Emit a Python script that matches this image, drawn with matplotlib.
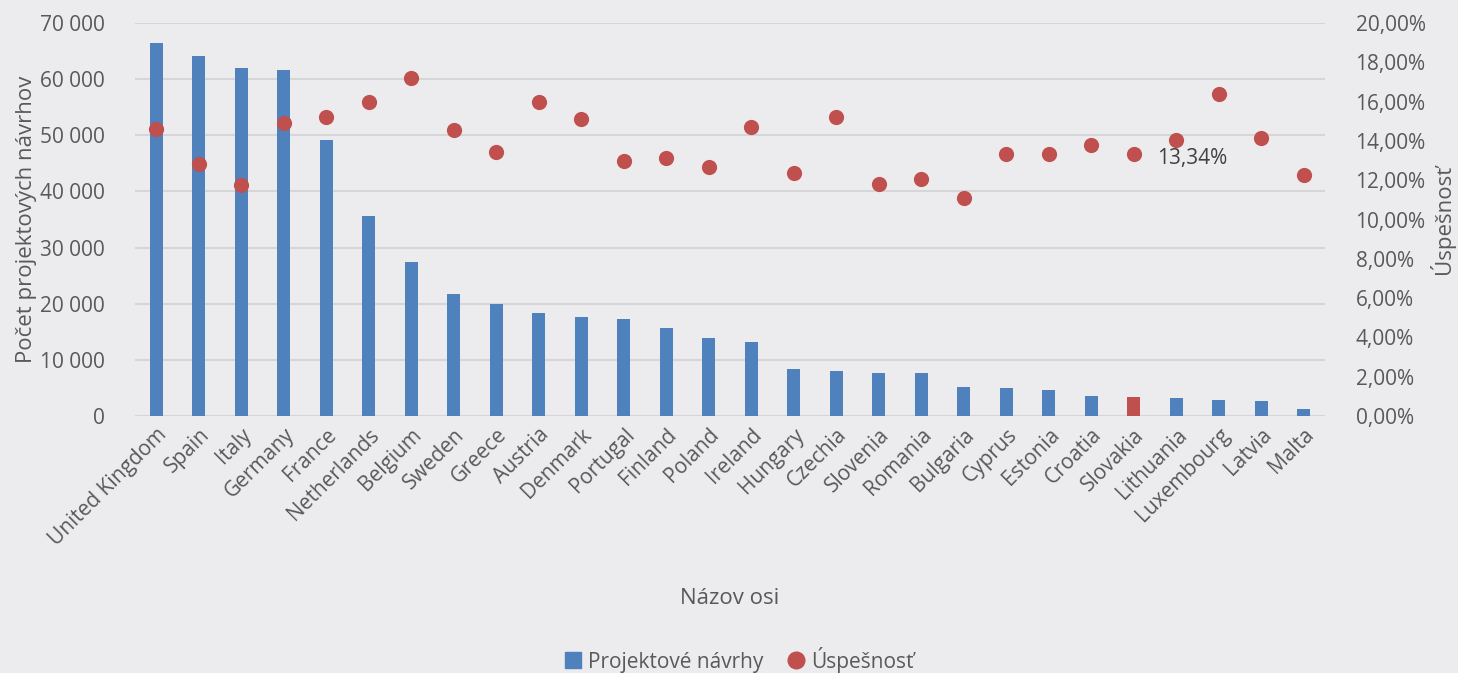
import matplotlib.pyplot as plt
from matplotlib.ticker import FuncFormatter
from matplotlib.lines import Line2D

plt.rcParams['font.family'] = ['Open Sans', 'DejaVu Sans']

# Data
krajiny = ['United Kingdom', 'Spain', 'Italy', 'Germany', 'France', 'Netherlands',
           'Belgium', 'Sweden', 'Greece', 'Austria', 'Denmark', 'Portugal', 'Finland',
           'Poland', 'Ireland', 'Hungary', 'Czechia', 'Slovenia', 'Romania', 'Bulgaria',
           'Cyprus', 'Estonia', 'Croatia', 'Slovakia', 'Lithuania', 'Luxembourg',
           'Latvia', 'Malta']
navrhy = [66400, 64200, 61900, 61700, 49100, 35700, 27400, 21700, 20000, 18300,
          17700, 17200, 15600, 13900, 13200, 8300, 8100, 7600, 7600, 5100,
          4900, 4700, 3600, 3400, 3200, 2800, 2700, 1300]
uspesnost = [14.62, 12.84, 11.74, 14.90, 15.23, 15.98, 17.20, 14.57, 13.42, 16.00,
             15.10, 12.99, 13.11, 12.69, 14.69, 12.37, 15.23, 11.82, 12.06, 11.11,
             13.33, 13.35, 13.79, 13.34, 14.03, 16.37, 14.13, 12.28]
zvyraznena = 'Slovakia'

modra = '#4f81bd'
cervena = '#c0504d'
text_farba = '#595959'
fs = 15      # popisky osi
fs_nazov = 16  # nazvy osi

fig = plt.figure(figsize=(14.58, 6.73), dpi=100)
fig.patch.set_facecolor('#ececee')
ax = fig.add_axes([135 / 1458, 257 / 673, 1190 / 1458, 393 / 673])
ax.set_facecolor('none')
ax2 = ax.twinx()

x = list(range(len(krajiny)))
farby = [cervena if k == zvyraznena else modra for k in krajiny]
ax.bar(x, navrhy, width=0.31, color=farby, zorder=3)
ax2.scatter(x, uspesnost, s=120, color=cervena, zorder=4, linewidths=0)

i = krajiny.index(zvyraznena)
ax2.annotate(f'{uspesnost[i]:.2f}%'.replace('.', ','), (x[i], uspesnost[i]),
             xytext=(17, -3), textcoords='offset points', va='center', ha='left',
             fontsize=fs, color='#404040')

ax.set_xlim(-0.5, len(krajiny) - 0.5)
ax.set_ylim(0, 70000)
ax2.set_ylim(0, 20)
ax.set_yticks(range(0, 70001, 10000))
ax2.set_yticks(range(0, 21, 2))
ax.yaxis.set_major_formatter(FuncFormatter(lambda v, p: f'{int(v):,}'.replace(',', ' ')))
ax2.yaxis.set_major_formatter(FuncFormatter(lambda v, p: f'{v:.2f}%'.replace('.', ',')))

ax.set_xticks(x)
ax.set_xticklabels(krajiny, rotation=45, ha='right', rotation_mode='anchor')

ax.grid(axis='y', color='#d6d6d8', linewidth=1.5, zorder=0)
for a in (ax, ax2):
    for s in a.spines.values():
        s.set_visible(False)
    a.tick_params(length=0, labelsize=fs, labelcolor=text_farba)
ax.tick_params(axis='y', pad=22)
ax.tick_params(axis='x', pad=6)
ax2.tick_params(axis='y', pad=22)

ax.set_ylabel('Počet projektových návrhov', fontsize=fs_nazov, color=text_farba)
ax.yaxis.set_label_coords(-0.082, 0.5)
ax2.set_ylabel('Úspešnosť', fontsize=fs_nazov, color=text_farba)
ax2.yaxis.set_label_coords(1.087, 0.5)
ax.set_xlabel('Názov osi', fontsize=fs_nazov, color=text_farba)
ax.xaxis.set_label_coords(0.5, -0.437)

handles = [Line2D([], [], marker='s', linestyle='none', color=modra, markersize=11),
           Line2D([], [], marker='o', linestyle='none', color=cervena, markersize=12)]
fig.legend(handles, ['Projektové návrhy', 'Úspešnosť'], loc='center',
           bbox_to_anchor=(0.507, 0.02), ncol=2, frameon=False, fontsize=fs,
           labelcolor=text_farba, handlelength=0.8, handletextpad=0.3,
           columnspacing=1.2)

fig.savefig('out.png', dpi=100, facecolor=fig.get_facecolor())
